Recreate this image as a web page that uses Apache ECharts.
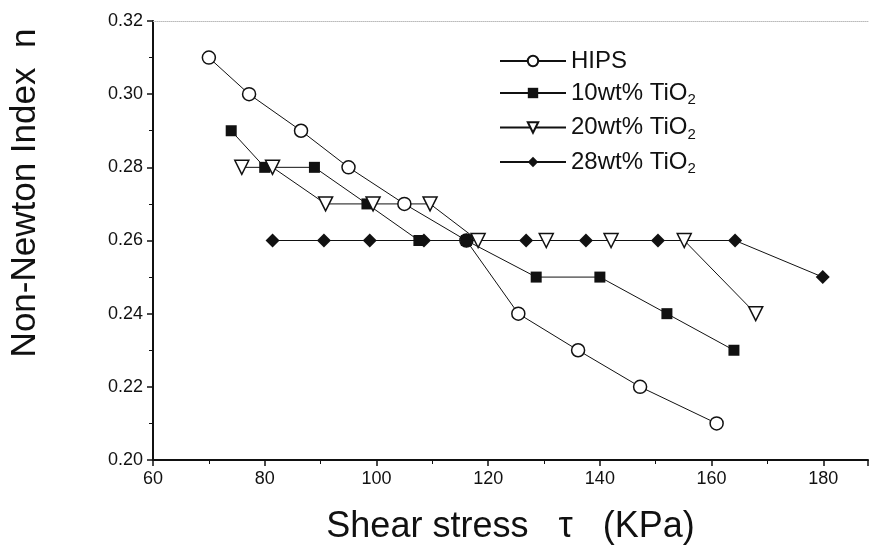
<!DOCTYPE html>
<html>
<head>
<meta charset="utf-8">
<script src="https://cdn.jsdelivr.net/npm/echarts@6/dist/echarts.min.js"></script>
<style>
  html, body { margin: 0; padding: 0; background: #fff; }
  #main { width: 870px; height: 545px; }
</style>
</head>
<body>
<div id="main"></div>
<script>
// shear stress (KPa) and non-Newton index n for each sample
const hipsX = [70, 77.2, 86.5, 95, 105, 116.1, 125.4, 136.1, 147.2, 160.9];
const hipsY = [0.31, 0.30, 0.29, 0.28, 0.27, 0.26, 0.24, 0.23, 0.22, 0.21];
const tio10X = [74, 80, 88.9, 98.3, 107.6, 116.1, 128.6, 140, 152, 164];
const tio10Y = [0.29, 0.28, 0.28, 0.27, 0.26, 0.26, 0.25, 0.25, 0.24, 0.23];
const tio20X = [75.9, 81.4, 90.9, 99.4, 109.6, 118.2, 130.4, 142, 155.1, 167.9];
const tio20Y = [0.28, 0.28, 0.27, 0.27, 0.27, 0.26, 0.26, 0.26, 0.26, 0.24];
const tio28X = [81.4, 90.6, 98.8, 108.5, 116.1, 126.8, 137.5, 150.4, 164.2, 179.9];
const tio28Y = [0.26, 0.26, 0.26, 0.26, 0.26, 0.26, 0.26, 0.26, 0.26, 0.25];
const names = ["HIPS", "10wt% TiO2", "20wt% TiO2", "28wt% TiO2"];

const font = "Liberation Sans, Arial, sans-serif";

let pairs = (xs, ys) => xs.map((x, i) => [x, ys[i]]);

let myChart = echarts.init(document.getElementById("main"));

let lineSeries = (name, xs, ys, symbol, size, filled, rotate) => ({
  name: name,
  type: "line",
  data: pairs(xs, ys),
  symbol: symbol,
  symbolSize: size,
  symbolRotate: rotate || 0,
  showAllSymbol: true,
  lineStyle: { color: "#111", width: 1 },
  itemStyle: {
    color: filled ? "#111" : "#fff",
    borderColor: "#111",
    borderWidth: filled ? 0 : 1.5,
  },
  emphasis: { disabled: true },
  animation: false,
});

let option = {
  backgroundColor: "#fff",
  textStyle: { fontFamily: font },
  grid: { left: 153, right: 2, top: 21, bottom: 85, outerBoundsMode: "none" },
  legend: {
    orient: "vertical",
    left: 494,
    top: 44,
    itemWidth: 66,
    itemHeight: 13,
    itemGap: 8,
    data: names,
    formatter: (n) => n.replace("TiO2", "TiO{sub|2}"),
    textStyle: {
      fontFamily: font,
      fontSize: 24,
      color: "#111",
      rich: {
        sub: { fontSize: 15, fontFamily: font, color: "#111", padding: [14, 0, 0, 0] },
      },
    },
  },
  xAxis: [
    {
      type: "value",
      min: 60,
      max: 188,
      interval: 20,
      name: "Shear stress   τ   (KPa)",
      nameLocation: "middle",
      nameGap: 49,
      nameTextStyle: { fontFamily: font, fontSize: 36, color: "#111" },
      axisLine: { lineStyle: { color: "#111", width: 2 } },
      axisTick: { show: true, length: 6, lineStyle: { color: "#111", width: 1.5 } },
      minorTick: { show: true, splitNumber: 2, length: 4, lineStyle: { color: "#111" } },
      axisLabel: {
        fontFamily: font,
        fontSize: 18,
        color: "#111",
        margin: 10,
        showMaxLabel: false,
        formatter: (v) => (v % 20 === 0 ? String(v) : ""),
      },
      splitLine: { show: false },
    },
    {
      type: "value",
      position: "top",
      min: 60,
      max: 188,
      axisLine: { show: true, lineStyle: { color: "#bbb", width: 1, type: "dotted" } },
      axisTick: { show: false },
      axisLabel: { show: false },
      splitLine: { show: false },
    },
  ],
  yAxis: {
    type: "value",
    min: 0.2,
    max: 0.32,
    interval: 0.02,
    axisLine: { show: true, lineStyle: { color: "#111", width: 2 } },
    axisTick: { show: true, length: 6, lineStyle: { color: "#111", width: 1.5 } },
    minorTick: { show: true, splitNumber: 2, length: 4, lineStyle: { color: "#111" } },
    axisLabel: {
      fontFamily: font,
      fontSize: 18,
      color: "#111",
      margin: 10,
      formatter: (v) => v.toFixed(2),
    },
    splitLine: { show: false },
  },
  graphic: [
    {
      type: "text",
      x: 25,
      y: 193,
      rotation: Math.PI / 2,
      style: {
        text: "Non-Newton Index  n",
        fontFamily: font,
        fontSize: 35,
        fill: "#111",
        align: "center",
        verticalAlign: "middle",
      },
    },
  ],
  series: [
    lineSeries(names[0], hipsX, hipsY, "circle", 13, false),
    lineSeries(names[1], tio10X, tio10Y, "rect", 11, true),
    lineSeries(names[2], tio20X, tio20Y, "triangle", 14, false, 180),
    lineSeries(names[3], tio28X, tio28Y, "diamond", 14, true),
  ],
};
myChart.setOption(option);
</script>
</body>
</html>
